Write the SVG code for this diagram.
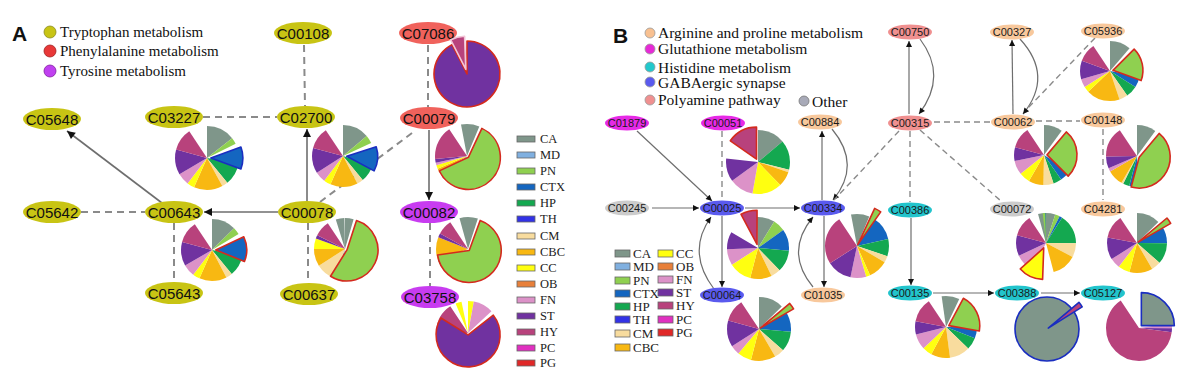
<svg xmlns="http://www.w3.org/2000/svg" width="1188" height="386" viewBox="0 0 1188 386">
<style>
.bg{fill:#fff}
.pie circle{fill:none;stroke-width:1}
.pie path{stroke-width:1.6;vector-effect:non-scaling-stroke;stroke-linejoin:round}
.CA{stroke:#7f968a;fill:#7f968a}.MD{stroke:#80b0e0;fill:#80b0e0}.PN{stroke:#8fd050;fill:#8fd050}.CTX{stroke:#1466c0;fill:#1466c0}
.HP{stroke:#14a850;fill:#14a850}.TH{stroke:#3232e6;fill:#3232e6}.CM{stroke:#f8dc9e;fill:#f8dc9e}.CBC{stroke:#f8b812;fill:#f8b812}
.CC{stroke:#ffff10;fill:#ffff10}.OB{stroke:#e8803a;fill:#e8803a}.FN{stroke:#dc92c8;fill:#dc92c8}.ST{stroke:#7032a0;fill:#7032a0}
.HY{stroke:#b8427c;fill:#b8427c}.PC{stroke:#e030c0;fill:#e030c0}.PG{stroke:#e02828;fill:#e02828}
.pie path.r{stroke:#d42a1e}.pie path.b{stroke:#1a2ec0}.pie path.w{stroke:#f2c4d6}
.nA ellipse{stroke:none}
.nA text{font:15px "Liberation Sans",Arial,sans-serif;text-anchor:middle;fill:#111}
.nB text{font:11px "Liberation Sans",Arial,sans-serif;text-anchor:middle;fill:#1a1a1a}
.yl{fill:#c8c414}.rd{fill:#f0625c}.pu{fill:#c83cf0}
.mg{fill:#e62ae6}.or{fill:#f8c89c}.pk{fill:#f09090}.bl{fill:#5a5aee}.cy{fill:#22c4cc}.gr{fill:#cccccc}
.sol{stroke:#6e6e6e;stroke-width:1.6;fill:none}
.das{stroke:#8a8a8a;stroke-width:2;stroke-dasharray:7 5;fill:none}
.solB{stroke:#6e6e6e;stroke-width:1.2;fill:none}
.dasB{stroke:#8a8a8a;stroke-width:1.4;stroke-dasharray:6 4;fill:none}
.leg{font:15px "Liberation Serif","Times New Roman",serif;fill:#111}
.legB{font:15.5px "Liberation Serif","Times New Roman",serif;fill:#111}
.lt{font:12.5px "Liberation Serif","Times New Roman",serif;fill:#222}
.ltB{font:13px "Liberation Serif","Times New Roman",serif;fill:#222}
.lr rect{stroke:#666;stroke-width:.8}
.ttl{font:bold 21px "Liberation Sans",Arial,sans-serif;fill:#111}
</style>
<defs>
<marker id="aA" viewBox="0 0 10 10" refX="10" refY="5" markerWidth="11" markerHeight="8" orient="auto" markerUnits="userSpaceOnUse"><path d="M0 0L10 5L0 10z" fill="#111"/></marker>
<marker id="aB" viewBox="0 0 10 10" refX="10" refY="5" markerWidth="8" markerHeight="6" orient="auto" markerUnits="userSpaceOnUse"><path d="M0 0L10 5L0 10z" fill="#111"/></marker>
</defs>
<rect class="bg" x="0" y="0" width="1188" height="386"/>

<!-- Panel A title & legend -->
<text class="ttl" x="12" y="41">A</text>
<g id="legendA">
<circle cx="50" cy="32" r="6" fill="#c8c414" stroke="#8a8a20" stroke-width=".8"/>
<text class="leg" x="60" y="37">Tryptophan metabolism</text>
<circle cx="50" cy="51" r="6" fill="#e83838" stroke="#a02020" stroke-width=".8"/>
<text class="leg" x="60" y="56">Phenylalanine metabolism</text>
<circle cx="50" cy="71" r="6" fill="#c040f0" stroke="#8020a0" stroke-width=".8"/>
<text class="leg" x="60" y="76">Tyrosine metabolism</text>
</g>

<!-- Connectors -->
<g id="connectors">
<line class="das" x1="304" y1="45" x2="305" y2="106"/>
<line class="das" x1="428" y1="45" x2="428" y2="107"/>
<line class="das" x1="203" y1="117" x2="277" y2="117"/>
<line class="sol" x1="162" y1="203" x2="67" y2="131" marker-end="url(#aA)"/>
<line class="das" x1="81" y1="212" x2="145" y2="212"/>
<line class="sol" x1="278" y1="212" x2="204" y2="212" marker-end="url(#aA)"/>
<line class="sol" x1="307" y1="201" x2="307" y2="129" marker-end="url(#aA)"/>
<line class="das" x1="320" y1="202" x2="416" y2="130"/>
<line class="sol" x1="429" y1="130" x2="429" y2="200" marker-end="url(#aA)"/>
<line class="das" x1="174" y1="223" x2="174" y2="282"/>
<line class="das" x1="308" y1="223" x2="308" y2="283"/>
<line class="das" x1="430" y1="223" x2="430" y2="286"/>

<line class="solB" x1="637" y1="131" x2="712" y2="201" marker-end="url(#aB)"/>
<line class="dasB" x1="722" y1="131" x2="722" y2="201"/>
<line class="solB" x1="652" y1="208" x2="699" y2="208" marker-end="url(#aB)"/>
<line class="solB" x1="745" y1="208" x2="800" y2="208" marker-end="url(#aB)"/>
<line class="solB" x1="722" y1="216" x2="722" y2="287" marker-end="url(#aB)"/>
<path class="solB" d="M714 289Q686 252 711 217" marker-end="url(#aB)"/>
<line class="solB" x1="822" y1="200" x2="822" y2="131" marker-end="url(#aB)"/>
<path class="solB" d="M832 129Q862 165 833 200" marker-end="url(#aB)"/>
<line class="solB" x1="824" y1="216" x2="824" y2="287" marker-end="url(#aB)"/>
<path class="solB" d="M813 287Q784 252 813 217" marker-end="url(#aB)"/>
<line class="dasB" x1="899" y1="131" x2="834" y2="200"/>
<line class="solB" x1="909" y1="114" x2="909" y2="41" marker-end="url(#aB)"/>
<path class="solB" d="M920 39Q948 76 919 114" marker-end="url(#aB)"/>
<line class="dasB" x1="934" y1="122" x2="990" y2="122"/>
<line class="solB" x1="1013" y1="114" x2="1012" y2="40" marker-end="url(#aB)"/>
<path class="solB" d="M1020 39Q1054 76 1023 114" marker-end="url(#aB)"/>
<line class="dasB" x1="1095" y1="38" x2="1028" y2="108"/>
<line class="dasB" x1="1036" y1="121" x2="1080" y2="121"/>
<line class="dasB" x1="1103" y1="129" x2="1103" y2="200"/>
<line class="dasB" x1="910" y1="131" x2="910" y2="202"/>
<line class="dasB" x1="920" y1="130" x2="1001" y2="201"/>
<line class="solB" x1="911" y1="218" x2="911" y2="285" marker-end="url(#aB)"/>
<line class="solB" x1="933" y1="293" x2="994" y2="293" marker-end="url(#aB)"/>
<line class="solB" x1="1041" y1="293" x2="1080" y2="293" marker-end="url(#aB)"/>
</g>

<!-- Panel A nodes -->
<g id="C00108" class="nA"><ellipse class="yl" cx="303" cy="33" rx="29" ry="11"/><text x="303" y="38.5">C00108</text></g>
<g id="C07086" class="nA"><ellipse class="rd" cx="428" cy="33" rx="29" ry="11"/><text x="428" y="38.5">C07086</text></g>
<g id="C05648" class="nA"><ellipse class="yl" cx="52" cy="119" rx="29" ry="11"/><text x="52" y="124.5">C05648</text></g>
<g id="C03227" class="nA"><ellipse class="yl" cx="174" cy="117" rx="29" ry="11"/><text x="174" y="122.5">C03227</text></g>
<g id="C02700" class="nA"><ellipse class="yl" cx="306" cy="117" rx="29" ry="11"/><text x="306" y="122.5">C02700</text></g>
<g id="C00079" class="nA"><ellipse class="rd" cx="429" cy="118" rx="29" ry="11"/><text x="429" y="123.5">C00079</text></g>
<g id="C05642" class="nA"><ellipse class="yl" cx="52" cy="212" rx="29" ry="11"/><text x="52" y="217.5">C05642</text></g>
<g id="C00643" class="nA"><ellipse class="yl" cx="174" cy="212" rx="29" ry="11"/><text x="174" y="217.5">C00643</text></g>
<g id="C00078" class="nA"><ellipse class="yl" cx="307" cy="212" rx="29" ry="11"/><text x="307" y="217.5">C00078</text></g>
<g id="C00082" class="nA"><ellipse class="pu" cx="429" cy="212" rx="29" ry="11"/><text x="429" y="217.5">C00082</text></g>
<g id="C05643" class="nA"><ellipse class="yl" cx="174" cy="293" rx="29" ry="11"/><text x="174" y="298.5">C05643</text></g>
<g id="C00637" class="nA"><ellipse class="yl" cx="309" cy="294" rx="29" ry="11"/><text x="309" y="299.5">C00637</text></g>
<g id="C03758" class="nA"><ellipse class="pu" cx="430" cy="297" rx="29" ry="11"/><text x="430" y="302.5">C03758</text></g>

<!-- Panel A pies -->
<g id="pieA1" class="pie" transform="translate(207,158) scale(32)">
<g transform="rotate(-90)">
<circle class="CA" r=".5" pathLength="360" stroke-dasharray="57 360"/>
<circle class="PN" r=".5" pathLength="360" stroke-dasharray="13 360" stroke-dashoffset="-57"/>
<circle class="HP" r=".5" pathLength="360" stroke-dasharray="45 360" stroke-dashoffset="-110"/>
<circle class="CM" r=".5" pathLength="360" stroke-dasharray="12 360" stroke-dashoffset="-155"/>
<circle class="CBC" r=".5" pathLength="360" stroke-dasharray="58 360" stroke-dashoffset="-167"/>
<circle class="CC" r=".5" pathLength="360" stroke-dasharray="15 360" stroke-dashoffset="-225"/>
<circle class="FN" r=".5" pathLength="360" stroke-dasharray="24 360" stroke-dashoffset="-240"/>
<circle class="ST" r=".5" pathLength="360" stroke-dasharray="51 360" stroke-dashoffset="-264"/>
<circle class="HY" r=".5" pathLength="360" stroke-dasharray="45 360" stroke-dashoffset="-315"/>
</g>
<path class="CTX b" d="M.12 0L1.06 -.342A1 1 0 0 1 1.06 .342Z"/>
</g>
<g id="pieA2" class="pie" transform="translate(343,156) scale(31)">
<g transform="rotate(-90)">
<circle class="CA" r=".5" pathLength="360" stroke-dasharray="55 360"/>
<circle class="PN" r=".5" pathLength="360" stroke-dasharray="17 360" stroke-dashoffset="-55"/>
<circle class="HP" r=".5" pathLength="360" stroke-dasharray="37 360" stroke-dashoffset="-118"/>
<circle class="CM" r=".5" pathLength="360" stroke-dasharray="13 360" stroke-dashoffset="-155"/>
<circle class="CBC" r=".5" pathLength="360" stroke-dasharray="57 360" stroke-dashoffset="-168"/>
<circle class="CC" r=".5" pathLength="360" stroke-dasharray="15 360" stroke-dashoffset="-225"/>
<circle class="FN" r=".5" pathLength="360" stroke-dasharray="22 360" stroke-dashoffset="-240"/>
<circle class="ST" r=".5" pathLength="360" stroke-dasharray="53 360" stroke-dashoffset="-262"/>
<circle class="HY" r=".5" pathLength="360" stroke-dasharray="45 360" stroke-dashoffset="-315"/>
</g>
<path class="CTX b" d="M.12 .01L1.071 -.299A1 1 0 0 1 1.003 .479Z"/>
</g>
<g id="pieA3" class="pie" transform="translate(212,250) scale(31)">
<g transform="rotate(-90)">
<circle class="CA" r=".5" pathLength="360" stroke-dasharray="50 360"/>
<circle class="PN" r=".5" pathLength="360" stroke-dasharray="15 360" stroke-dashoffset="-50"/>
<circle class="HP" r=".5" pathLength="360" stroke-dasharray="43 360" stroke-dashoffset="-112"/>
<circle class="CM" r=".5" pathLength="360" stroke-dasharray="13 360" stroke-dashoffset="-155"/>
<circle class="CBC" r=".5" pathLength="360" stroke-dasharray="57 360" stroke-dashoffset="-168"/>
<circle class="CC" r=".5" pathLength="360" stroke-dasharray="15 360" stroke-dashoffset="-225"/>
<circle class="FN" r=".5" pathLength="360" stroke-dasharray="25 360" stroke-dashoffset="-240"/>
<circle class="ST" r=".5" pathLength="360" stroke-dasharray="50 360" stroke-dashoffset="-265"/>
<circle class="HY" r=".5" pathLength="360" stroke-dasharray="45 360" stroke-dashoffset="-315"/>
</g>
<path class="CTX r" d="M.12 -.003L1.026 -.426A1 1 0 0 1 1.047 .372Z"/>
</g>
<g id="pieA4" class="pie" transform="translate(467,74) scale(33)">
<path class="ST r" d="M0 0L0 -1A1 1 0 1 1 -.454 -.891Z"/>
<path class="HY w" d="M-.038 -.145L-.492 -1.036A1 1 0 0 1 -.073 -1.144Z"/>
</g>
<g id="pieA5" class="pie" transform="translate(467,156) scale(32)">
<g transform="rotate(-90)">
<circle class="CA" r=".5" pathLength="360" stroke-dasharray="25 360"/>
<circle class="CTX" r=".5" pathLength="360" stroke-dasharray="4 360" stroke-dashoffset="-245"/>
<circle class="HP" r=".5" pathLength="360" stroke-dasharray="7 360" stroke-dashoffset="-249"/>
<circle class="CM" r=".5" pathLength="360" stroke-dasharray="6 360" stroke-dashoffset="-256"/>
<circle class="CBC" r=".5" pathLength="360" stroke-dasharray="10 360" stroke-dashoffset="-262"/>
<circle class="CC" r=".5" pathLength="360" stroke-dasharray="7 360" stroke-dashoffset="-272"/>
<circle class="FN" r=".5" pathLength="360" stroke-dasharray="5 360" stroke-dashoffset="-279"/>
<circle class="ST" r=".5" pathLength="360" stroke-dasharray="8 360" stroke-dashoffset="-284"/>
<circle class="HY" r=".5" pathLength="360" stroke-dasharray="68 360" stroke-dashoffset="-292"/>
</g>
<path class="PN r" d="M.042 .042L.465 -.864A1 1 0 1 1 -.864 .465Z"/>
</g>
<g id="pieA6" class="pie" transform="translate(345,249) scale(31)">
<g transform="rotate(-90)">
<circle class="CA" r=".5" pathLength="360" stroke-dasharray="18 360"/>
<circle class="CTX" r=".5" pathLength="360" stroke-dasharray="8 360" stroke-dashoffset="-212"/>
<circle class="CM" r=".5" pathLength="360" stroke-dasharray="42 360" stroke-dashoffset="-220"/>
<circle class="CBC" r=".5" pathLength="360" stroke-dasharray="36 360" stroke-dashoffset="-262"/>
<circle class="CC" r=".5" pathLength="360" stroke-dasharray="22 360" stroke-dashoffset="-298"/>
<circle class="ST" r=".5" pathLength="360" stroke-dasharray="7 360" stroke-dashoffset="-320"/>
<circle class="HY" r=".5" pathLength="360" stroke-dasharray="33 360" stroke-dashoffset="-327"/>
</g>
<path class="PN r" d="M.063 .03L.372 -.921A1 1 0 1 1 -.467 .878Z"/>
</g>
<g id="pieA7" class="pie" transform="translate(468,249) scale(32)">
<g transform="rotate(-90)">
<circle class="CA" r=".5" pathLength="360" stroke-dasharray="20 360"/>
<circle class="CTX" r=".5" pathLength="360" stroke-dasharray="4 360" stroke-dashoffset="-262"/>
<circle class="HP" r=".5" pathLength="360" stroke-dasharray="7 360" stroke-dashoffset="-266"/>
<circle class="CM" r=".5" pathLength="360" stroke-dasharray="3 360" stroke-dashoffset="-273"/>
<circle class="CBC" r=".5" pathLength="360" stroke-dasharray="46 360" stroke-dashoffset="-276"/>
<circle class="ST" r=".5" pathLength="360" stroke-dasharray="8 360" stroke-dashoffset="-322"/>
<circle class="HY" r=".5" pathLength="360" stroke-dasharray="30 360" stroke-dashoffset="-330"/>
</g>
<path class="PN r" d="M.038 .047L.38 -.893A1 1 0 1 1 -.952 .186Z"/>
</g>
<g id="pieA8" class="pie" transform="translate(468,333) scale(32)">
<g transform="rotate(-90)">
<circle class="CC" r=".5" pathLength="360" stroke-dasharray="12 360"/>
<circle class="FN" r=".5" pathLength="360" stroke-dasharray="40 360" stroke-dashoffset="-12"/>
<circle class="HY" r=".5" pathLength="360" stroke-dasharray="58 360" stroke-dashoffset="-302"/>
</g>
<path class="ST r" d="M.003 .06L.791 -.556A1 1 0 1 1 -.845 -.47Z"/>
</g>

<!-- Panel A tissue legend -->
<g id="tissueLegendA" class="lr">
<rect class="CA" x="517" y="136" width="18" height="6"/><text class="lt" x="540" y="143">CA</text>
<rect class="MD" x="517" y="152" width="18" height="6"/><text class="lt" x="540" y="159">MD</text>
<rect class="PN" x="517" y="168" width="18" height="6"/><text class="lt" x="540" y="175">PN</text>
<rect class="CTX" x="517" y="184" width="18" height="6"/><text class="lt" x="540" y="191">CTX</text>
<rect class="HP" x="517" y="200" width="18" height="6"/><text class="lt" x="540" y="207">HP</text>
<rect class="TH" x="517" y="216" width="18" height="6"/><text class="lt" x="540" y="223">TH</text>
<rect class="CM" x="517" y="233" width="18" height="6"/><text class="lt" x="540" y="240">CM</text>
<rect class="CBC" x="517" y="249" width="18" height="6"/><text class="lt" x="540" y="256">CBC</text>
<rect class="CC" x="517" y="265" width="18" height="6"/><text class="lt" x="540" y="272">CC</text>
<rect class="OB" x="517" y="281" width="18" height="6"/><text class="lt" x="540" y="288">OB</text>
<rect class="FN" x="517" y="297" width="18" height="6"/><text class="lt" x="540" y="304">FN</text>
<rect class="ST" x="517" y="313" width="18" height="6"/><text class="lt" x="540" y="320">ST</text>
<rect class="HY" x="517" y="329" width="18" height="6"/><text class="lt" x="540" y="336">HY</text>
<rect class="PC" x="517" y="345" width="18" height="6"/><text class="lt" x="540" y="352">PC</text>
<rect class="PG" x="517" y="360" width="18" height="6"/><text class="lt" x="540" y="367">PG</text>
</g>

<!-- Panel B title & legend -->
<text class="ttl" x="613" y="43">B</text>
<g id="legendB">
<circle cx="650" cy="33" r="5" fill="#f8c090" stroke="#999" stroke-width=".8"/><text class="legB" x="658" y="38">Arginine and proline metabolism</text>
<circle cx="650" cy="49" r="5" fill="#e62ad6" stroke="#999" stroke-width=".8"/><text class="legB" x="658" y="54">Glutathione metabolism</text>
<circle cx="650" cy="67" r="5" fill="#22c8cc" stroke="#999" stroke-width=".8"/><text class="legB" x="658" y="73">Histidine metabolism</text>
<circle cx="650" cy="82" r="5" fill="#5a5aee" stroke="#999" stroke-width=".8"/><text class="legB" x="658" y="88">GABAergic synapse</text>
<circle cx="650" cy="100" r="5" fill="#f09090" stroke="#999" stroke-width=".8"/><text class="legB" x="658" y="105">Polyamine pathway</text>
<circle cx="804" cy="101" r="5" fill="#a8aab8" stroke="#777" stroke-width=".8"/><text class="legB" x="812" y="107">Other</text>
</g>

<!-- Panel B nodes -->
<g id="C01879" class="nB"><ellipse class="mg" cx="627" cy="123" rx="22" ry="7.5"/><text x="627" y="127">C01879</text></g>
<g id="C00051" class="nB"><ellipse class="mg" cx="723" cy="123" rx="22" ry="7.5"/><text x="723" y="127">C00051</text></g>
<g id="C00884" class="nB"><ellipse class="or" cx="820" cy="122" rx="22" ry="7.5"/><text x="820" y="126">C00884</text></g>
<g id="C00750" class="nB"><ellipse class="pk" cx="910" cy="32" rx="22" ry="7.5"/><text x="910" y="36">C00750</text></g>
<g id="C00327" class="nB"><ellipse class="or" cx="1012" cy="32" rx="22" ry="7.5"/><text x="1012" y="36">C00327</text></g>
<g id="C05936" class="nB"><ellipse class="or" cx="1103" cy="31" rx="22" ry="7.5"/><text x="1103" y="35">C05936</text></g>
<g id="C00315" class="nB"><ellipse class="pk" cx="910" cy="123" rx="22" ry="7.5"/><text x="910" y="127">C00315</text></g>
<g id="C00062" class="nB"><ellipse class="or" cx="1013" cy="122" rx="22" ry="7.5"/><text x="1013" y="126">C00062</text></g>
<g id="C00148" class="nB"><ellipse class="or" cx="1103" cy="120" rx="22" ry="7.5"/><text x="1103" y="124">C00148</text></g>
<g id="C00245" class="nB"><ellipse class="gr" cx="627" cy="208" rx="22" ry="7.5"/><text x="627" y="212">C00245</text></g>
<g id="C00025" class="nB"><ellipse class="bl" cx="722" cy="208" rx="22" ry="7.5"/><text x="722" y="212">C00025</text></g>
<g id="C00334" class="nB"><ellipse class="bl" cx="823" cy="208" rx="22" ry="7.5"/><text x="823" y="212">C00334</text></g>
<g id="C00386" class="nB"><ellipse class="cy" cx="910" cy="210" rx="22" ry="7.5"/><text x="910" y="214">C00386</text></g>
<g id="C00072" class="nB"><ellipse class="gr" cx="1012" cy="209" rx="22" ry="7.5"/><text x="1012" y="213">C00072</text></g>
<g id="C04281" class="nB"><ellipse class="or" cx="1103" cy="209" rx="22" ry="7.5"/><text x="1103" y="213">C04281</text></g>
<g id="C00064" class="nB"><ellipse class="bl" cx="722" cy="295" rx="22" ry="7.5"/><text x="722" y="299">C00064</text></g>
<g id="C01035" class="nB"><ellipse class="or" cx="823" cy="295" rx="22" ry="7.5"/><text x="823" y="299">C01035</text></g>
<g id="C00135" class="nB"><ellipse class="cy" cx="910" cy="293" rx="22" ry="7.5"/><text x="910" y="297">C00135</text></g>
<g id="C00388" class="nB"><ellipse class="cy" cx="1017" cy="293" rx="22" ry="7.5"/><text x="1017" y="297">C00388</text></g>
<g id="C05127" class="nB"><ellipse class="cy" cx="1103" cy="293" rx="22" ry="7.5"/><text x="1103" y="297">C05127</text></g>

<!-- Panel B pies -->
<g id="pieB1" class="pie" transform="translate(758,162) scale(32)">
<g transform="rotate(-90)">
<circle class="CA" r=".5" pathLength="360" stroke-dasharray="55 360"/>
<circle class="HP" r=".5" pathLength="360" stroke-dasharray="60 360" stroke-dashoffset="-55"/>
<circle class="CM" r=".5" pathLength="360" stroke-dasharray="5 360" stroke-dashoffset="-115"/>
<circle class="CBC" r=".5" pathLength="360" stroke-dasharray="30 360" stroke-dashoffset="-120"/>
<circle class="CC" r=".5" pathLength="360" stroke-dasharray="60 360" stroke-dashoffset="-150"/>
<circle class="FN" r=".5" pathLength="360" stroke-dasharray="48 360" stroke-dashoffset="-210"/>
<circle class="ST" r=".5" pathLength="360" stroke-dasharray="47 360" stroke-dashoffset="-258"/>
</g>
<path class="HY r" d="M-.046 -.089L-.865 -.663A1 1 0 0 1 -.046 -1.089Z"/>
</g>
<g id="pieB2" class="pie" transform="translate(758,248) scale(31)">
<g transform="rotate(-90)">
<circle class="CA" r=".5" pathLength="360" stroke-dasharray="35 360"/>
<circle class="PN" r=".5" pathLength="360" stroke-dasharray="25 360" stroke-dashoffset="-35"/>
<circle class="CTX" r=".5" pathLength="360" stroke-dasharray="45 360" stroke-dashoffset="-60"/>
<circle class="HP" r=".5" pathLength="360" stroke-dasharray="45 360" stroke-dashoffset="-105"/>
<circle class="CM" r=".5" pathLength="360" stroke-dasharray="20 360" stroke-dashoffset="-150"/>
<circle class="CBC" r=".5" pathLength="360" stroke-dasharray="45 360" stroke-dashoffset="-170"/>
<circle class="CC" r=".5" pathLength="360" stroke-dasharray="47 360" stroke-dashoffset="-215"/>
<circle class="FN" r=".5" pathLength="360" stroke-dasharray="33 360" stroke-dashoffset="-262"/>
<circle class="ST" r=".5" pathLength="360" stroke-dasharray="37 360" stroke-dashoffset="-295"/>
</g>
<path class="HY r" d="M-.031 -.116L-.547 -1.087A1.1 1.1 0 0 1 -.031 -1.216Z"/>
</g>
<g id="pieB3" class="pie" transform="translate(759,329) scale(32)">
<g transform="rotate(-90)">
<circle class="CA" r=".5" pathLength="360" stroke-dasharray="50 360"/>
<circle class="CTX" r=".5" pathLength="360" stroke-dasharray="45 360" stroke-dashoffset="-60"/>
<circle class="HP" r=".5" pathLength="360" stroke-dasharray="40 360" stroke-dashoffset="-105"/>
<circle class="CM" r=".5" pathLength="360" stroke-dasharray="20 360" stroke-dashoffset="-145"/>
<circle class="CBC" r=".5" pathLength="360" stroke-dasharray="50 360" stroke-dashoffset="-165"/>
<circle class="CC" r=".5" pathLength="360" stroke-dasharray="28 360" stroke-dashoffset="-215"/>
<circle class="FN" r=".5" pathLength="360" stroke-dasharray="19 360" stroke-dashoffset="-243"/>
<circle class="ST" r=".5" pathLength="360" stroke-dasharray="53 360" stroke-dashoffset="-262"/>
<circle class="HY" r=".5" pathLength="360" stroke-dasharray="45 360" stroke-dashoffset="-315"/>
</g>
<path class="PN r" d="M.041 -.029L.96 -.8A1.2 1.2 0 0 1 1.08 -.629Z"/>
</g>
<g id="pieB4" class="pie" transform="translate(857,246) scale(32)">
<g transform="rotate(-90)">
<circle class="CA" r=".5" pathLength="360" stroke-dasharray="25 360"/>
<circle class="CTX" r=".5" pathLength="360" stroke-dasharray="50 360" stroke-dashoffset="-35"/>
<circle class="HP" r=".5" pathLength="360" stroke-dasharray="35 360" stroke-dashoffset="-85"/>
<circle class="CM" r=".5" pathLength="360" stroke-dasharray="13 360" stroke-dashoffset="-120"/>
<circle class="CBC" r=".5" pathLength="360" stroke-dasharray="39 360" stroke-dashoffset="-133"/>
<circle class="CC" r=".5" pathLength="360" stroke-dasharray="8 360" stroke-dashoffset="-172"/>
<circle class="FN" r=".5" pathLength="360" stroke-dasharray="32 360" stroke-dashoffset="-180"/>
<circle class="ST" r=".5" pathLength="360" stroke-dasharray="50 360" stroke-dashoffset="-212"/>
<circle class="HY" r=".5" pathLength="360" stroke-dasharray="98 360" stroke-dashoffset="-262"/>
</g>
<path class="PN r" d="M.025 -.043L.553 -1.176A1.25 1.25 0 0 1 .742 -1.067Z"/>
</g>
<g id="pieB5" class="pie" transform="translate(1110,71) scale(30)">
<g transform="rotate(-90)">
<circle class="CA" r=".5" pathLength="360" stroke-dasharray="45 360"/>
<circle class="CTX" r=".5" pathLength="360" stroke-dasharray="25 360" stroke-dashoffset="-110"/>
<circle class="HP" r=".5" pathLength="360" stroke-dasharray="25 360" stroke-dashoffset="-135"/>
<circle class="CM" r=".5" pathLength="360" stroke-dasharray="18 360" stroke-dashoffset="-160"/>
<circle class="CBC" r=".5" pathLength="360" stroke-dasharray="72 360" stroke-dashoffset="-178"/>
<circle class="CC" r=".5" pathLength="360" stroke-dasharray="12 360" stroke-dashoffset="-250"/>
<circle class="FN" r=".5" pathLength="360" stroke-dasharray="18 360" stroke-dashoffset="-262"/>
<circle class="ST" r=".5" pathLength="360" stroke-dasharray="40 360" stroke-dashoffset="-280"/>
<circle class="HY" r=".5" pathLength="360" stroke-dasharray="40 360" stroke-dashoffset="-320"/>
</g>
<path class="PN r" d="M.098 -.022L.805 -.729A1 1 0 0 1 1.038 .32Z"/>
</g>
<g id="pieB6" class="pie" transform="translate(1044,155) scale(30)">
<g transform="rotate(-90)">
<circle class="CA" r=".5" pathLength="360" stroke-dasharray="40 360"/>
<circle class="CTX" r=".5" pathLength="360" stroke-dasharray="25 360" stroke-dashoffset="-135"/>
<circle class="HP" r=".5" pathLength="360" stroke-dasharray="18 360" stroke-dashoffset="-160"/>
<circle class="CM" r=".5" pathLength="360" stroke-dasharray="22 360" stroke-dashoffset="-178"/>
<circle class="CBC" r=".5" pathLength="360" stroke-dasharray="32 360" stroke-dashoffset="-200"/>
<circle class="CC" r=".5" pathLength="360" stroke-dasharray="23 360" stroke-dashoffset="-232"/>
<circle class="FN" r=".5" pathLength="360" stroke-dasharray="30 360" stroke-dashoffset="-255"/>
<circle class="ST" r=".5" pathLength="360" stroke-dasharray="30 360" stroke-dashoffset="-285"/>
<circle class="HY" r=".5" pathLength="360" stroke-dasharray="45 360" stroke-dashoffset="-315"/>
</g>
<path class="PN r" d="M.1 -.004L.743 -.77A1 1 0 0 1 .807 .703Z"/>
</g>
<g id="pieB7" class="pie" transform="translate(1137,156) scale(31)">
<g transform="rotate(-90)">
<circle class="CA" r=".5" pathLength="360" stroke-dasharray="40 360"/>
<circle class="CTX" r=".5" pathLength="360" stroke-dasharray="20 360" stroke-dashoffset="-195"/>
<circle class="HP" r=".5" pathLength="360" stroke-dasharray="13 360" stroke-dashoffset="-215"/>
<circle class="CM" r=".5" pathLength="360" stroke-dasharray="4 360" stroke-dashoffset="-228"/>
<circle class="CBC" r=".5" pathLength="360" stroke-dasharray="33 360" stroke-dashoffset="-232"/>
<circle class="FN" r=".5" pathLength="360" stroke-dasharray="7 360" stroke-dashoffset="-265"/>
<circle class="ST" r=".5" pathLength="360" stroke-dasharray="25 360" stroke-dashoffset="-272"/>
<circle class="HY" r=".5" pathLength="360" stroke-dasharray="63 360" stroke-dashoffset="-297"/>
</g>
<path class="PN r" d="M.071 .037L.714 -.729A1 1 0 0 1 -.188 1.003Z"/>
</g>
<g id="pieB8" class="pie" transform="translate(1046,243) scale(30)">
<g transform="rotate(-90)">
<circle class="CA" r=".5" pathLength="360" stroke-dasharray="20 360"/>
<circle class="PN" r=".5" pathLength="360" stroke-dasharray="10 360" stroke-dashoffset="-20"/>
<circle class="CTX" r=".5" pathLength="360" stroke-dasharray="6 360" stroke-dashoffset="-30"/>
<circle class="HP" r=".5" pathLength="360" stroke-dasharray="64 360" stroke-dashoffset="-36"/>
<circle class="CM" r=".5" pathLength="360" stroke-dasharray="30 360" stroke-dashoffset="-100"/>
<circle class="CBC" r=".5" pathLength="360" stroke-dasharray="52 360" stroke-dashoffset="-130"/>
<circle class="FN" r=".5" pathLength="360" stroke-dasharray="42 360" stroke-dashoffset="-228"/>
<circle class="ST" r=".5" pathLength="360" stroke-dasharray="45 360" stroke-dashoffset="-270"/>
<circle class="HY" r=".5" pathLength="360" stroke-dasharray="45 360" stroke-dashoffset="-315"/>
</g>
<path class="CC r" d="M-.076 .163L-.113 1.212A1.05 1.05 0 0 1 -.856 .865Z"/>
</g>
<g id="pieB9" class="pie" transform="translate(1137,243) scale(30)">
<g transform="rotate(-90)">
<circle class="CA" r=".5" pathLength="360" stroke-dasharray="50 360"/>
<circle class="CTX" r=".5" pathLength="360" stroke-dasharray="40 360" stroke-dashoffset="-60"/>
<circle class="HP" r=".5" pathLength="360" stroke-dasharray="45 360" stroke-dashoffset="-100"/>
<circle class="CM" r=".5" pathLength="360" stroke-dasharray="20 360" stroke-dashoffset="-145"/>
<circle class="CBC" r=".5" pathLength="360" stroke-dasharray="50 360" stroke-dashoffset="-165"/>
<circle class="CC" r=".5" pathLength="360" stroke-dasharray="25 360" stroke-dashoffset="-215"/>
<circle class="FN" r=".5" pathLength="360" stroke-dasharray="22 360" stroke-dashoffset="-240"/>
<circle class="ST" r=".5" pathLength="360" stroke-dasharray="48 360" stroke-dashoffset="-262"/>
<circle class="HY" r=".5" pathLength="360" stroke-dasharray="50 360" stroke-dashoffset="-310"/>
</g>
<path class="PN r" d="M.041 -.029L.999 -.833A1.25 1.25 0 0 1 1.124 -.654Z"/>
</g>
<g id="pieB10" class="pie" transform="translate(946,327) scale(31)">
<g transform="rotate(-90)">
<circle class="CA" r=".5" pathLength="360" stroke-dasharray="28 360"/>
<circle class="CTX" r=".5" pathLength="360" stroke-dasharray="23 360" stroke-dashoffset="-100"/>
<circle class="HP" r=".5" pathLength="360" stroke-dasharray="25 360" stroke-dashoffset="-123"/>
<circle class="CM" r=".5" pathLength="360" stroke-dasharray="42 360" stroke-dashoffset="-148"/>
<circle class="CBC" r=".5" pathLength="360" stroke-dasharray="40 360" stroke-dashoffset="-190"/>
<circle class="CC" r=".5" pathLength="360" stroke-dasharray="20 360" stroke-dashoffset="-230"/>
<circle class="FN" r=".5" pathLength="360" stroke-dasharray="32 360" stroke-dashoffset="-250"/>
<circle class="ST" r=".5" pathLength="360" stroke-dasharray="28 360" stroke-dashoffset="-282"/>
<circle class="HY" r=".5" pathLength="360" stroke-dasharray="50 360" stroke-dashoffset="-310"/>
</g>
<path class="PN r" d="M.09 -.044L.559 -.927A1 1 0 0 1 1.075 .13Z"/>
</g>
<g id="pieB11" class="pie" transform="translate(1047,329) scale(32)">
<path class="CA b" d="M0 -1A1 1 0 1 1 0 1A1 1 0 1 1 0 -1Z"/>
<path class="HY b" d="M.04 -.029L.998 -.833A1.25 1.25 0 0 1 1.1 -.692Z"/>
</g>
<g id="pieB12" class="pie" transform="translate(1139,328) scale(33)">
<g transform="rotate(-90)">
<circle class="FN" r=".5" pathLength="360" stroke-dasharray="10 360" stroke-dashoffset="-90"/>
<circle class="ST" r=".5" pathLength="360" stroke-dasharray="8 360" stroke-dashoffset="-100"/>
<circle class="HY" r=".5" pathLength="360" stroke-dasharray="252 360" stroke-dashoffset="-108"/>
</g>
<path class="CA b" d="M.071 -.071L.071 -1.071A1 1 0 0 1 1.071 -.071Z"/>
</g>

<!-- Panel B tissue legend -->
<g id="tissueLegendB" class="lr">
<rect class="CA" x="615" y="250" width="15" height="7"/><text class="ltB" x="633" y="258">CA</text>
<rect class="MD" x="615" y="263" width="15" height="7"/><text class="ltB" x="633" y="271">MD</text>
<rect class="PN" x="615" y="277" width="15" height="7"/><text class="ltB" x="633" y="285">PN</text>
<rect class="CTX" x="615" y="290" width="15" height="7"/><text class="ltB" x="633" y="298">CTX</text>
<rect class="HP" x="615" y="303" width="15" height="7"/><text class="ltB" x="633" y="311">HP</text>
<rect class="TH" x="615" y="316" width="15" height="7"/><text class="ltB" x="633" y="324">TH</text>
<rect class="CM" x="615" y="330" width="15" height="7"/><text class="ltB" x="633" y="338">CM</text>
<rect class="CBC" x="615" y="344" width="15" height="7"/><text class="ltB" x="633" y="352">CBC</text>
<rect class="CC" x="658" y="250" width="15" height="7"/><text class="ltB" x="676" y="258">CC</text>
<rect class="OB" x="658" y="263" width="15" height="7"/><text class="ltB" x="676" y="271">OB</text>
<rect class="FN" x="658" y="276" width="15" height="7"/><text class="ltB" x="676" y="284">FN</text>
<rect class="ST" x="658" y="289" width="15" height="7"/><text class="ltB" x="676" y="297">ST</text>
<rect class="HY" x="658" y="302" width="15" height="7"/><text class="ltB" x="676" y="310">HY</text>
<rect class="PC" x="658" y="316" width="15" height="7"/><text class="ltB" x="676" y="324">PC</text>
<rect class="PG" x="658" y="329" width="15" height="7"/><text class="ltB" x="676" y="337">PG</text>
</g>
</svg>
